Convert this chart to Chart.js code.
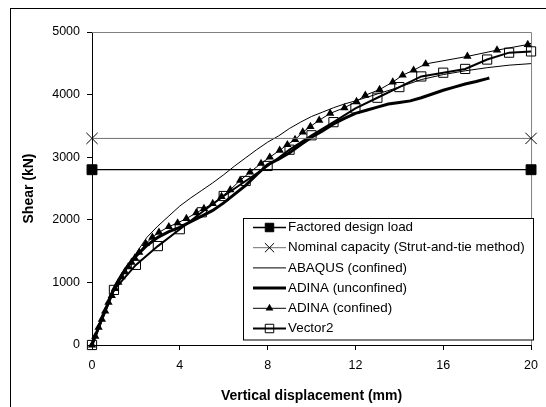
<!DOCTYPE html>
<html>
<head>
<meta charset="utf-8">
<script src="https://cdn.jsdelivr.net/npm/chart.js@4.4.0/dist/chart.umd.min.js"></script>
<style>
  body { margin: 0; background: #fff; overflow: hidden; }
  #wrap { position: relative; width: 546px; height: 407px; }
</style>
</head>
<body>
<div id="wrap"><canvas id="chartCortante" width="546" height="407"></canvas></div>
<script>
// --- datos ---
const xTicksStep = 4;
const yTicksStep = 1000;

const factoredX = [0, 20];
const factoredY = [2800, 2800];

const nominalX = [0, 20];
const nominalY = [3300, 3300];

const abaqusX = [0, 0.5, 1, 1.5, 2, 2.5, 3, 3.5, 4, 4.5, 5, 5.5, 6, 6.5, 7, 7.5, 8, 8.5, 9, 9.5, 10, 10.5, 11, 11.5, 12, 13, 14, 15, 16, 17, 18, 19, 20];
const abaqusY = [0, 450, 880, 1200, 1460, 1720, 1900, 2060, 2220, 2350, 2470, 2590, 2720, 2860, 2990, 3120, 3240, 3340, 3460, 3560, 3650, 3720, 3790, 3850, 3900, 4010, 4120, 4240, 4320, 4380, 4430, 4470, 4495];

const unconfX = [0, 0.5, 1, 1.5, 2, 2.5, 3, 3.5, 4, 4.5, 5, 5.5, 6, 6.5, 7, 7.5, 8, 8.5, 9, 9.5, 10, 10.5, 11, 11.5, 12, 12.5, 13, 13.5, 14, 14.5, 15, 15.5, 16, 16.5, 17, 17.5, 18, 18.1];
const unconfY = [0, 470, 900, 1200, 1420, 1590, 1720, 1810, 1880, 1970, 2060, 2150, 2270, 2410, 2550, 2720, 2880, 2970, 3070, 3200, 3320, 3420, 3530, 3620, 3700, 3750, 3800, 3850, 3875, 3900, 3950, 4010, 4070, 4120, 4170, 4210, 4255, 4265];

const confX = [0, 0.15, 0.3, 0.45, 0.6, 0.75, 0.9, 1.05, 1.2, 1.35, 1.5, 1.65, 1.8, 1.95, 2.15, 2.45, 2.75, 3.05, 3.5, 3.9, 4.3, 4.75, 5.1, 5.5, 5.9, 6.3, 6.75, 7.2, 7.7, 8.1, 8.55, 8.9, 9.25, 9.6, 9.95, 10.35, 10.85, 11.5, 12.05, 12.45, 13.1, 13.7, 14.15, 14.65, 15.2, 17.1, 18.45, 19.85, 20];
const confY = [0, 140, 280, 410, 540, 680, 790, 900, 1000, 1090, 1170, 1250, 1320, 1390, 1480, 1620, 1720, 1800, 1890, 1950, 2020, 2110, 2180, 2260, 2370, 2480, 2630, 2760, 2900, 3000, 3110, 3200, 3280, 3400, 3490, 3590, 3700, 3790, 3890, 3990, 4080, 4200, 4310, 4390, 4490, 4610, 4710, 4800, 4820];

const vectorX = [0, 1, 2, 3, 4, 5, 6, 7, 8, 9, 10, 11, 12, 13, 14, 15, 16, 17, 18, 19, 20];
const vectorY = [0, 880, 1280, 1580, 1850, 2120, 2380, 2620, 2860, 3120, 3350, 3560, 3780, 3950, 4120, 4290, 4350, 4410, 4560, 4670, 4690];

const FONT = '"Liberation Sans", Arial, sans-serif';

function puntos(xs, ys) {
    return xs.map(function (x, i) { return { x: x, y: ys[i] }; });
}

// Marco exterior y bordes grises del área de trazado
const marcoPlugin = {
    id: 'marco',
    beforeDraw: function (chart) {
        const ctx = chart.ctx;
        ctx.save();
        ctx.strokeStyle = '#000';
        ctx.lineWidth = 1;
        ctx.strokeRect(10.5, 8.5, 700, 600);
        ctx.restore();
    },
    beforeDatasetsDraw: function (chart) {
        const a = chart.chartArea;
        const ctx = chart.ctx;
        ctx.save();
        ctx.strokeStyle = '#808080';
        ctx.lineWidth = 1;
        ctx.beginPath();
        ctx.moveTo(a.left, a.top + 0.5);
        ctx.lineTo(a.right + 0.5, a.top + 0.5);
        ctx.lineTo(a.right + 0.5, a.bottom);
        ctx.stroke();
        ctx.restore();
    }
};

// Leyenda dentro del área de trazado
const leyendaPlugin = {
    id: 'leyenda',
    afterDraw: function (chart) {
        const ctx = chart.ctx;
        const bx = 243.5, by = 218.5, bw = 290, bh = 121.5;
        ctx.save();
        ctx.fillStyle = '#fff';
        ctx.fillRect(bx, by, bw, bh);
        ctx.strokeStyle = '#000';
        ctx.lineWidth = 1;
        ctx.strokeRect(bx, by, bw, bh);
        chart.data.datasets.forEach(function (ds, i) {
            const y = 227.5 + i * 20.2;
            ctx.strokeStyle = ds.borderColor;
            ctx.lineWidth = ds.borderWidth;
            ctx.beginPath();
            ctx.moveTo(253, y);
            ctx.lineTo(286, y);
            ctx.stroke();
            if (ds.legendRadius) {
                ctx.fillStyle = ds.pointBackgroundColor;
                ctx.strokeStyle = ds.pointBorderColor;
                ctx.lineWidth = ds.pointBorderWidth;
                Chart.helpers.drawPoint(ctx, {
                    pointStyle: ds.pointStyle,
                    radius: ds.legendRadius,
                    rotation: 0,
                    borderWidth: ds.pointBorderWidth
                }, 269.5, y);
            }
            ctx.fillStyle = '#000';
            ctx.font = '13.4px ' + FONT;
            ctx.textBaseline = 'middle';
            ctx.textAlign = 'left';
            ctx.fillText(ds.label, 288, y);
        });
        ctx.restore();
    }
};

document.addEventListener('DOMContentLoaded', function () {
    try {
        const chartElement = document.getElementById('chartCortante');
        const ultimo = confX.length - 1;
        new Chart(chartElement, {
            type: 'line',
            data: {
                datasets: [{
                    label: 'Factored design load',
                    data: puntos(factoredX, factoredY),
                    borderColor: '#000',
                    borderWidth: 1.3,
                    pointStyle: 'rect',
                    pointRadius: 7,
                    legendRadius: 6,
                    pointBackgroundColor: '#000',
                    pointBorderColor: '#000',
                    pointBorderWidth: 1,
                    clip: false
                }, {
                    label: 'Nominal capacity (Strut-and-tie method)',
                    data: puntos(nominalX, nominalY),
                    borderColor: '#6e6e6e',
                    borderWidth: 1,
                    pointStyle: 'crossRot',
                    pointRadius: 8,
                    legendRadius: 6.5,
                    pointBackgroundColor: '#000',
                    pointBorderColor: '#000',
                    pointBorderWidth: 1,
                    clip: false
                }, {
                    label: 'ABAQUS (confined)',
                    data: puntos(abaqusX, abaqusY),
                    borderColor: '#000',
                    borderWidth: 1,
                    pointRadius: 0,
                    clip: false
                }, {
                    label: 'ADINA (unconfined)',
                    data: puntos(unconfX, unconfY),
                    borderColor: '#000',
                    borderWidth: 3,
                    pointRadius: 0,
                    clip: false
                }, {
                    label: 'ADINA (confined)',
                    data: puntos(confX, confY),
                    borderColor: '#000',
                    borderWidth: 1,
                    pointStyle: 'triangle',
                    pointRadius: function (c) { return c.dataIndex === ultimo ? 0 : 4.8; },
                    legendRadius: 4.5,
                    pointBackgroundColor: '#000',
                    pointBorderColor: '#000',
                    pointBorderWidth: 0,
                    clip: false
                }, {
                    label: 'Vector2',
                    data: puntos(vectorX, vectorY),
                    borderColor: '#000',
                    borderWidth: 2,
                    pointStyle: 'rect',
                    pointRadius: 6.5,
                    legendRadius: 6,
                    pointBackgroundColor: 'rgba(0,0,0,0)',
                    pointBorderColor: '#000',
                    pointBorderWidth: 1,
                    clip: false
                }]
            },
            options: {
                responsive: false,
                animation: false,
                devicePixelRatio: 1,
                layout: { padding: { left: 0, top: 32, right: 11, bottom: 0 } },
                plugins: {
                    legend: { display: false },
                    tooltip: { enabled: false }
                },
                elements: { line: { tension: 0 } },
                scales: {
                    x: {
                        type: 'linear',
                        min: 0,
                        max: 20,
                        afterFit: function (s) { s.height = 62; },
                        border: { display: true, color: '#000', width: 1 },
                        grid: { drawOnChartArea: false, drawTicks: true, tickLength: 5, color: '#000' },
                        ticks: {
                            stepSize: xTicksStep, padding: 8, color: '#000',
                            font: { family: FONT, size: 12.5 },
                            callback: function (v) { return String(v); }
                        },
                        title: {
                            display: true,
                            text: 'Vertical displacement (mm)',
                            color: '#000',
                            font: { family: FONT, size: 14, weight: 'bold' },
                            padding: { top: 0, bottom: 2 }
                        }
                    },
                    y: {
                        type: 'linear',
                        min: 0,
                        max: 5000,
                        afterFit: function (s) { s.width = 92; },
                        border: { display: true, color: '#000', width: 1 },
                        grid: { drawOnChartArea: false, drawTicks: true, tickLength: 5, color: '#000' },
                        ticks: {
                            stepSize: yTicksStep, padding: 7, color: '#000',
                            font: { family: FONT, size: 12.5 },
                            callback: function (v) { return String(v); }
                        },
                        title: {
                            display: true,
                            text: 'Shear (kN)',
                            color: '#000',
                            font: { family: FONT, size: 14, weight: 'bold' },
                            padding: { top: 21, bottom: 0 }
                        }
                    }
                }
            },
            plugins: [marcoPlugin, leyendaPlugin]
        });
    } catch (error) {
        console.error('Error al crear la gráfica:', error);
    }
});
</script>
</body>
</html>
